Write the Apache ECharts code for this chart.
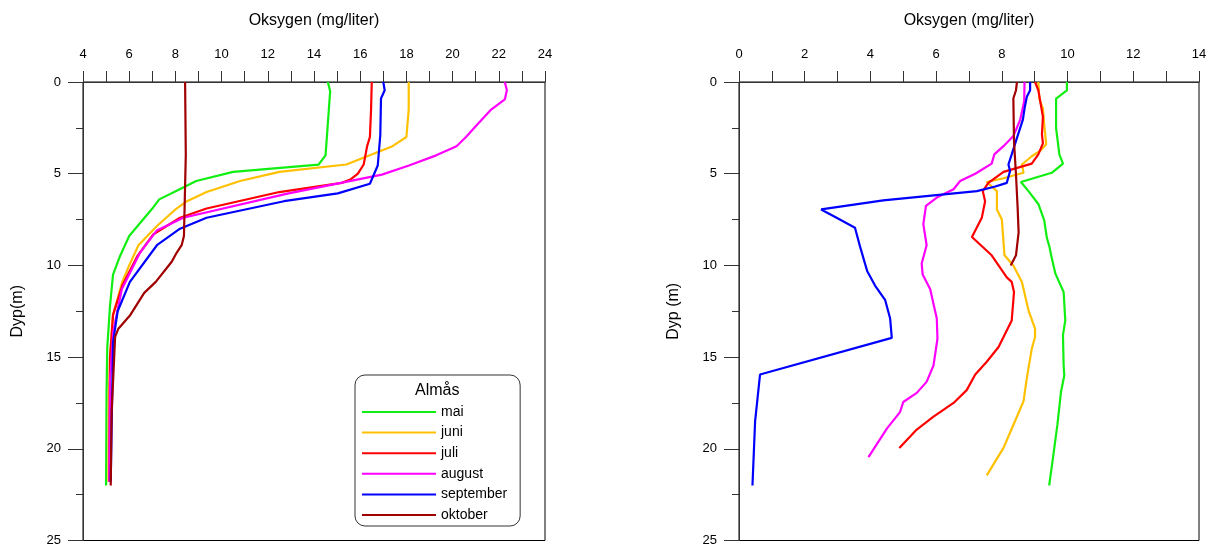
<!DOCTYPE html>
<html>
<head>
<meta charset="utf-8">
<script src="https://cdn.jsdelivr.net/npm/echarts@6/dist/echarts.min.js"></script>
<style>
  html, body { margin: 0; padding: 0; background: #fff; }
  #chart { width: 1210px; height: 547px; }
</style>
</head>
<body>
<div id="chart"></div>
<script>
// måneder i tegnforklaringen
const maneder = ['mai', 'juni', 'juli', 'august', 'september', 'oktober'];
const farger = ['#11ee11', '#ffc000', '#ff0000', '#ff00ff', '#0000ff', '#a00000'];

// Venstre figur (Almås): dyp (m) og oksygen (mg/liter)
const dypMaiV = [0, 0.5, 4, 4.5, 4.9, 5.4, 5.9, 6.4, 6.9, 8.4, 9.5, 10.5, 12.2, 14.5, 17, 22];
const oksMaiV = [14.6, 14.7, 14.5, 14.2, 10.5, 8.9, 8.1, 7.3, 7.0, 6.0, 5.6, 5.3, 5.17, 5.05, 5.02, 5.0];
const dypJuniV = [0, 1.5, 3, 3.5, 4.5, 4.9, 5.4, 6, 6.5, 6.9, 7.85, 8.9, 10, 10.9, 12.7, 15, 17, 21.8];
const oksJuniV = [18.1, 18.1, 18.0, 17.4, 15.4, 12.5, 10.8, 9.35, 8.5, 8.05, 7.2, 6.4, 6.0, 5.7, 5.3, 5.17, 5.12, 5.1];
const dypJuliV = [0, 1.5, 3, 3.5, 4.5, 5, 5.3, 5.5, 6, 6.9, 7.4, 8.3, 9.5, 11.1, 12.7, 15, 21.8];
const oksJuliV = [16.5, 16.47, 16.42, 16.3, 16.15, 15.9, 15.6, 15.2, 12.5, 9.35, 8.2, 7.05, 6.35, 5.7, 5.3, 5.17, 5.14];
const dypAugV = [0, 0.45, 0.95, 1.5, 2.5, 3, 3.5, 4, 4.55, 5.05, 6.1, 7.4, 8.1, 9.3, 11.3, 13.6, 16.3, 21.8];
const oksAugV = [22.26, 22.35, 22.26, 21.67, 20.94, 20.58, 20.17, 19.29, 18.11, 16.94, 12.8, 8.34, 7.19, 6.47, 5.68, 5.31, 5.17, 5.14];
const dypSepV = [0, 0.45, 0.9, 2.9, 4.55, 5.55, 6.07, 6.5, 7.4, 8.0, 8.9, 10.9, 12.5, 14.2, 21.8];
const oksSepV = [17.0, 17.06, 16.9, 16.87, 16.76, 16.42, 15.03, 12.7, 9.35, 8.2, 7.2, 6.03, 5.5, 5.3, 5.2];
const dypOktV = [0, 4, 8.4, 8.9, 9.3, 9.8, 10.9, 11.5, 12.7, 13.45, 13.9, 18, 22];
const oksOktV = [8.42, 8.45, 8.37, 8.27, 8.06, 7.84, 7.15, 6.65, 6.05, 5.53, 5.39, 5.24, 5.2];

// Høyre figur
const dypMaiH = [0, 0.45, 0.9, 2.5, 3.95, 4.45, 4.95, 5.45, 5.95, 6.65, 7.55, 8.5, 9.0, 9.45, 10.45, 11.45, 13, 13.8, 15.45, 16, 16.9, 18.7, 20.3, 22];
const oksMaiH = [9.98, 9.98, 9.65, 9.65, 9.75, 9.86, 9.52, 8.58, 8.81, 9.11, 9.29, 9.37, 9.45, 9.5, 9.63, 9.88, 9.93, 9.86, 9.88, 9.9, 9.8, 9.69, 9.57, 9.44];
const dypJuniH = [0, 0.9, 1.45, 2.35, 3.4, 3.75, 4.05, 4.5, 4.95, 5.25, 5.45, 5.95, 6.95, 7.5, 9.45, 10, 10.9, 12.45, 13.45, 13.9, 14.55, 16.15, 17.4, 18.7, 19.95, 21.45];
const oksJuniH = [9.11, 9.14, 9.25, 9.29, 9.35, 9.17, 8.91, 8.61, 8.66, 8.05, 7.54, 7.85, 7.85, 8.0, 8.08, 8.35, 8.61, 8.81, 9.01, 9.01, 8.91, 8.76, 8.66, 8.35, 8.05, 7.54];
const dypJuliH = [0, 0.45, 1.9, 2.85, 3.35, 3.95, 4.45, 4.9, 5.5, 5.95, 6.5, 7.4, 8.45, 9.45, 10.65, 10.9, 11.45, 13, 14.45, 15.25, 15.95, 16.8, 17.5, 18.25, 18.95, 19.95];
const oksJuliH = [9.01, 9.11, 9.25, 9.22, 9.25, 9.11, 8.91, 8.05, 7.59, 7.42, 7.49, 7.39, 7.09, 7.69, 8.15, 8.3, 8.37, 8.3, 7.9, 7.54, 7.19, 6.93, 6.53, 5.92, 5.41, 4.88];
const dypAugH = [0, 1.05, 2.05, 2.95, 3.5, 3.95, 4.45, 5, 5.4, 5.85, 6.3, 6.75, 7.75, 8.9, 9.9, 10.5, 11.3, 12.1, 12.9, 14, 15.45, 16.35, 16.95, 17.45, 18, 18.9, 20.45];
const oksAugH = [8.69, 8.68, 8.56, 8.35, 8.05, 7.77, 7.69, 7.19, 6.73, 6.53, 6.02, 5.69, 5.61, 5.71, 5.56, 5.59, 5.82, 5.92, 6.02, 6.04, 5.92, 5.71, 5.41, 5.0, 4.9, 4.5, 3.94];
const dypSepH = [0, 0.45, 0.8, 1.45, 2.05, 3.05, 3.95, 4.5, 4.85, 5.5, 5.7, 5.95, 6.45, 6.95, 7.4, 7.95, 8.95, 10.3, 11.1, 11.9, 12.9, 13.95, 15.95, 18.5, 22];
const oksSepH = [8.86, 8.86, 8.76, 8.69, 8.64, 8.46, 8.3, 8.2, 8.25, 8.15, 7.8, 7.24, 4.39, 2.5, 2.97, 3.53, 3.68, 3.9, 4.14, 4.45, 4.6, 4.65, 0.64, 0.49, 0.41];
const dypOktH = [0, 0.45, 0.9, 3.25, 5.05, 6.85, 8.2, 9.45, 10];
const oksOktH = [8.46, 8.43, 8.35, 8.37, 8.43, 8.48, 8.51, 8.43, 8.27];

const venstre = [[oksMaiV, dypMaiV], [oksJuniV, dypJuniV], [oksJuliV, dypJuliV], [oksAugV, dypAugV], [oksSepV, dypSepV], [oksOktV, dypOktV]];
const hoyre = [[oksMaiH, dypMaiH], [oksJuniH, dypJuniH], [oksJuliH, dypJuliH], [oksAugH, dypAugH], [oksSepH, dypSepH], [oksOktH, dypOktH]];

const font = "'Liberation Sans', Arial, sans-serif";
const axisColor = '#333';

const lag = (ox, dyp) => ox.map((v, i) => [v, dyp[i]]);

const xAkse = (grid, min, max) => ({
    gridIndex: grid,
    type: 'value',
    position: 'top',
    min: min,
    max: max,
    interval: 2,
    name: 'Oksygen (mg/liter)',
    nameLocation: 'middle',
    nameGap: 53,
    nameTextStyle: { fontSize: 16, color: '#000', fontFamily: font },
    axisLine: { lineStyle: { color: axisColor, width: 1 } },
    axisTick: { length: 11, lineStyle: { color: axisColor } },
    minorTick: { show: true, splitNumber: 2, length: 11, lineStyle: { color: axisColor } },
    axisLabel: { margin: 21, fontSize: 13, color: '#000', fontFamily: font },
    splitLine: { show: false }
});

const yAkse = (grid, navn) => ({
    gridIndex: grid,
    type: 'value',
    inverse: true,
    min: 0,
    max: 25,
    interval: 5,
    name: navn,
    nameLocation: 'middle',
    nameGap: 57,
    nameTextStyle: { fontSize: 16, color: '#000', fontFamily: font },
    axisLine: { lineStyle: { color: axisColor, width: 1 } },
    axisTick: { length: 15, lineStyle: { color: axisColor } },
    minorTick: { show: true, splitNumber: 2, length: 7, lineStyle: { color: axisColor } },
    axisLabel: { margin: 22, fontSize: 13, color: '#000', fontFamily: font },
    splitLine: { show: false }
});

const serier = [];
venstre.forEach((s, i) => {
    serier.push({
        name: maneder[i], type: 'line', xAxisIndex: 0, yAxisIndex: 0,
        data: lag(s[0], s[1]), showSymbol: false, symbol: 'none',
        color: farger[i], lineStyle: { width: 2.2, color: farger[i] }
    });
});
hoyre.forEach((s, i) => {
    serier.push({
        name: maneder[i], type: 'line', xAxisIndex: 1, yAxisIndex: 1,
        data: lag(s[0], s[1]), showSymbol: false, symbol: 'none',
        color: farger[i], lineStyle: { width: 2.2, color: farger[i] }
    });
});

const chart = echarts.init(document.getElementById('chart'));
chart.setOption({
    animation: false,
    backgroundColor: '#fff',
    textStyle: { fontFamily: font },
    title: {
        text: 'Almås', left: 415, top: 383, padding: 0,
        textStyle: { fontSize: 16, fontWeight: 'normal', color: '#000', fontFamily: font }
    },
    legend: {
        data: maneder,
        orient: 'vertical',
        left: 355,
        top: 375,
        padding: [30, 13, 4, 7],
        itemGap: 6.6,
        itemWidth: 74,
        itemHeight: 2,
        itemTextGap: 9,
        icon: 'rect',
        borderColor: '#333',
        borderWidth: 1,
        borderRadius: 10,
        backgroundColor: '#fff',
        textStyle: { fontSize: 14, lineHeight: 14, color: '#000', fontFamily: font }
    },
    grid: [
        { left: 83, top: 82, width: 462, height: 461, show: true, borderColor: '#000', borderWidth: 1, backgroundColor: 'transparent' },
        { left: 739, top: 82, width: 460, height: 461, show: true, borderColor: '#000', borderWidth: 1, backgroundColor: 'transparent' }
    ],
    xAxis: [xAkse(0, 4, 24), xAkse(1, 0, 14)],
    yAxis: [yAkse(0, 'Dyp(m)'), yAkse(1, 'Dyp (m)')],
    series: serier
});
</script>
</body>
</html>
